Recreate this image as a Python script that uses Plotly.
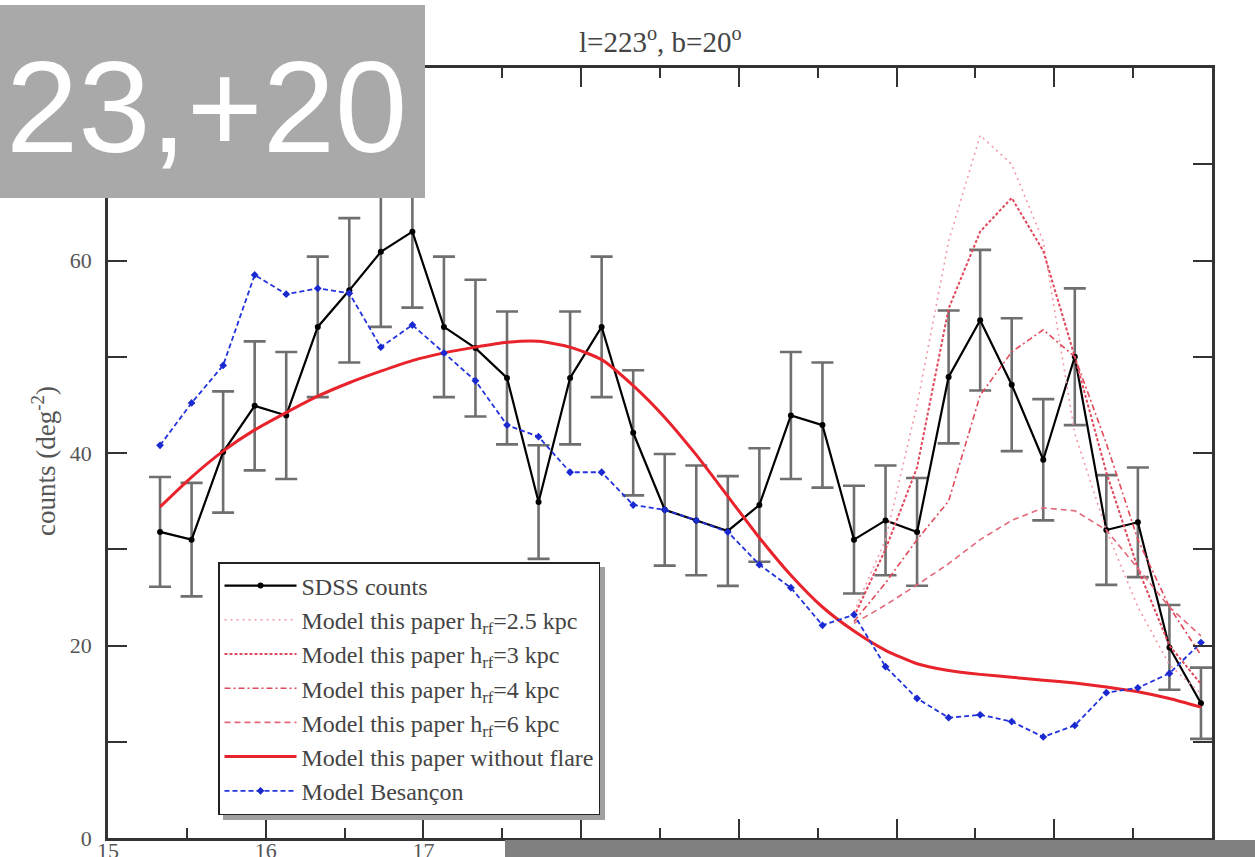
import plotly.graph_objects as go

# ---------------- data ----------------
mag = [15.33, 15.53, 15.73, 15.93, 16.13, 16.33, 16.53, 16.73, 16.93, 17.13,
       17.33, 17.53, 17.73, 17.93, 18.13, 18.33, 18.53, 18.73, 18.93, 19.13,
       19.33, 19.53, 19.73, 19.93, 20.13, 20.33, 20.53, 20.73, 20.93, 21.13,
       21.33, 21.53, 21.73, 21.93]

sdss_counts = [31.8, 31.0, 40.1, 44.9, 43.9, 53.1, 56.9, 60.9, 63.0, 53.1,
               50.9, 47.8, 34.9, 47.8, 53.1, 42.1, 34.1, 33.0, 31.9, 34.6,
               43.9, 42.9, 31.0, 33.0, 31.8, 47.9, 53.8, 47.1, 39.3, 50.0,
               32.0, 32.8, 19.8, 14.0]

sdss_err = [5.7, 5.9, 6.3, 6.7, 6.6, 7.3, 7.5, 7.8, 7.9, 7.3,
            7.1, 6.9, 5.9, 6.9, 7.3, 6.5, 5.8, 5.7, 5.7, 5.9,
            6.6, 6.5, 5.6, 5.7, 5.6, 6.9, 7.3, 6.9, 6.3, 7.1,
            5.7, 5.7, 4.4, 3.7]

besancon = [40.8, 45.2, 49.1, 58.5, 56.5, 57.1, 56.6, 51.0, 53.3, 50.4,
            47.5, 42.9, 41.7, 38.0, 38.0, 34.6, 34.1, 33.0, 31.8, 28.4,
            26.0, 22.1, 23.2, 17.8, 14.5, 12.5, 12.8, 12.1, 10.5, 11.7,
            15.1, 15.6, 17.1, 20.3]

no_flare = [34.4, 37.5, 40.2, 42.4, 44.2, 45.9, 47.3, 48.5, 49.6, 50.4,
            51.0, 51.5, 51.6, 51.0, 49.7, 47.0, 43.7, 39.8, 35.5, 31.2,
            27.3, 24.0, 21.5, 19.5, 18.1, 17.4, 17.0, 16.7, 16.4, 16.1,
            15.7, 15.2, 14.5, 13.6]

flare_mag = [19.73, 19.93, 20.13, 20.33, 20.53, 20.73, 20.93, 21.13, 21.33,
             21.53, 21.73, 21.93]
flare_h25 = [23.5, 31.0, 45.0, 62.0, 73.0, 70.0, 62.0, 42.0, 32.0, 24.0, 18.0, 15.0]
flare_h3 = [23.0, 30.0, 38.5, 55.0, 63.0, 66.5, 61.0, 50.0, 38.0, 28.0, 20.0, 16.0]
flare_h4 = [22.5, 26.5, 31.0, 35.0, 46.0, 50.5, 52.8, 50.0, 41.0, 31.0, 24.0, 19.0]
flare_h6 = [22.3, 24.2, 26.3, 28.5, 31.0, 33.0, 34.3, 34.0, 32.0, 28.0, 24.0, 21.0]

x_ticks = [15, 16, 17, 18, 19, 20, 21, 22]
y_ticks = [0, 20, 40, 60]

# ---------------- layout geometry (pixels) ----------------
W, H = 1255, 857
L, R, T, B = 108, 1212, 68, 838


def px(x):
    return (x - L) / (R - L)


def py(y):
    return (B - y) / (B - T)


SERIF = "Liberation Serif, Times New Roman, serif"
AXC = "#333333"
TICKFONT = dict(family=SERIF, size=22, color="#555555")

fig = go.Figure()

fig.add_trace(go.Scatter(
    x=mag, y=sdss_counts, name="SDSS counts", mode="lines+markers",
    line=dict(color="black", width=2.2),
    marker=dict(color="black", size=6, symbol="circle"),
    error_y=dict(type="data", array=sdss_err, color="#6f6f6f", thickness=2.6, width=11),
    legendgroup="a"))

fig.add_trace(go.Scatter(
    x=flare_mag, y=flare_h25, name="Model this paper h<sub>rf</sub>=2.5 kpc", mode="lines",
    line=dict(color="#f29aa6", width=1.6, dash="2px,4px"), legendgroup="b"))
fig.add_trace(go.Scatter(
    x=flare_mag, y=flare_h3, name="Model this paper h<sub>rf</sub>=3 kpc", mode="lines",
    line=dict(color="#e0485c", width=2, dash="3px,2px"), legendgroup="c"))
fig.add_trace(go.Scatter(
    x=flare_mag, y=flare_h4, name="Model this paper h<sub>rf</sub>=4 kpc", mode="lines",
    line=dict(color="#e04a5a", width=1.6, dash="6px,3px,2px,3px"), legendgroup="d"))
fig.add_trace(go.Scatter(
    x=flare_mag, y=flare_h6, name="Model this paper h<sub>rf</sub>=6 kpc", mode="lines",
    line=dict(color="#e2687a", width=1.6, dash="6px,4px"), legendgroup="e"))
fig.add_trace(go.Scatter(
    x=mag, y=no_flare, name="Model this paper without flare", mode="lines",
    line=dict(color="#e8232b", width=3, shape="spline", smoothing=0.6), legendgroup="f"))
fig.add_trace(go.Scatter(
    x=mag, y=besancon, name="Model Besançon", mode="lines+markers",
    line=dict(color="#2233dd", width=1.8, dash="5px,3px"),
    marker=dict(color="#1a2ad0", size=6, symbol="diamond"), legendgroup="g"))

# empty trace that only makes the label axis (x2) exist
fig.add_trace(go.Scatter(x=[], y=[], xaxis="x2", yaxis="y", showlegend=False,
                         hoverinfo="skip", mode="lines"))

# legend placement
LEG_L, LEG_T, LEG_R, LEG_B = 218, 562, 600, 815

shapes = [
    # legend drop shadow
    dict(type="rect", xref="paper", yref="paper",
         x0=px(LEG_L + 5), x1=px(LEG_R + 5), y0=py(LEG_B + 5), y1=py(LEG_T + 5),
         fillcolor="#a0a0a0", line=dict(width=0), layer="above"),
    # grey label box top-left
    dict(type="rect", xref="paper", yref="paper",
         x0=px(0), x1=px(425), y0=py(198), y1=py(5),
         fillcolor="#a9a9a9", line=dict(width=0), layer="above"),
    # grey box bottom-right
    dict(type="rect", xref="paper", yref="paper",
         x0=px(505), x1=px(1260), y0=py(880), y1=py(840),
         fillcolor="#808080", line=dict(width=0), layer="above"),
]

annotations = [
    dict(text="23,+20", xref="paper", yref="paper", x=px(4), y=py(107),
         xanchor="left", yanchor="middle", showarrow=False,
         font=dict(family="Liberation Sans, Arial, sans-serif",
                   size=130, color="white")),
    dict(text="l=223<sup>o</sup>, b=20<sup>o</sup>", xref="paper", yref="paper",
         x=px(660), y=py(40), xanchor="center", yanchor="middle", showarrow=False,
         font=dict(family=SERIF, size=29, color="#444444")),
    dict(text="counts (deg<sup>-2</sup>)", xref="paper", yref="paper",
         x=px(44), y=py(461), xanchor="center", yanchor="middle", showarrow=False,
         textangle=-90, font=dict(family=SERIF, size=27, color="#555555")),
]

axis_common = dict(
    showline=True, linecolor=AXC, linewidth=2.5, mirror="allticks",
    ticks="inside", ticklen=19, tickwidth=2, tickcolor=AXC,
    showgrid=False, zeroline=False,
    tickfont=TICKFONT,
)

fig.update_layout(
    width=W, height=H,
    margin=dict(l=L, r=W - R, t=T, b=H - B, autoexpand=False),
    paper_bgcolor="white", plot_bgcolor="white",
    xaxis=dict(range=[15, 22], tickvals=x_ticks, showticklabels=False,
               minor=dict(dtick=0.5, tick0=15, ticklen=10, ticks="inside",
                          tickwidth=2, tickcolor=AXC),
               **axis_common),
    # label-only copy of the x axis so the tick labels peek out above the
    # lower edge as in the reference
    xaxis2=dict(range=[15, 22], overlaying="x", anchor="free",
                position=3 / (B - T), side="bottom", tickvals=x_ticks,
                showline=False, ticks="", showgrid=False, zeroline=False,
                tickfont=TICKFONT, ticklabelstandoff=0),
    yaxis=dict(range=[0, 80], tickvals=y_ticks,
               minor=dict(dtick=10, tick0=0, ticklen=10, ticks="inside",
                          tickwidth=2, tickcolor=AXC),
               ticklabelstandoff=9, **axis_common),
    showlegend=True,
    legend=dict(x=px(LEG_L), y=py(LEG_T), xanchor="left", yanchor="top",
                bgcolor="white", bordercolor="#222222", borderwidth=1.5,
                font=dict(family=SERIF, size=24, color="#444444"),
                itemwidth=72, tracegroupgap=0, traceorder="grouped"),
    shapes=shapes,
    annotations=annotations,
)

fig.write_html("out.html")
